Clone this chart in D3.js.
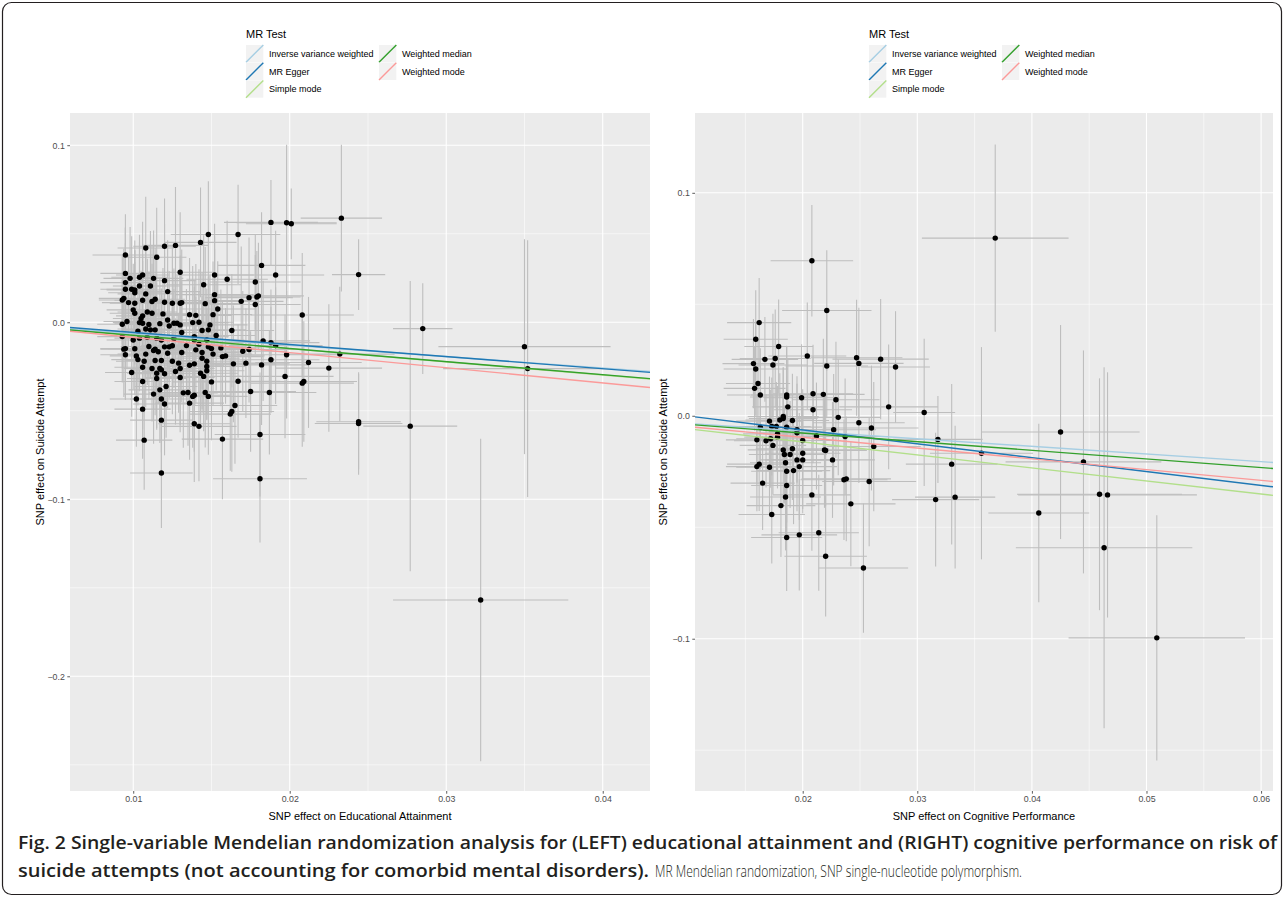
<!DOCTYPE html>
<html lang="en">
<head>
<meta charset="utf-8">
<title>MR scatter plots</title>
<script src="https://cdn.jsdelivr.net/npm/d3@7"></script>
<style>
body { margin: 0; background: #fff; }
.axis text { font-family: "Liberation Sans", Arial, sans-serif; font-size: 8.8px; fill: #4d4d4d; }
.axis line { stroke: #333; stroke-width: 0.8; }
.axis path { display: none; }
.lab { font-family: "Liberation Sans", Arial, sans-serif; fill: #000; }
</style>
</head>
<body>
<script>
// MR methods (legend order) and colours
var methods = ["Inverse variance weighted", "MR Egger", "Simple mode", "Weighted median", "Weighted mode"];
var methodColors = ["#a6cee3", "#1f78b4", "#b2df8a", "#33a02c", "#fb9a99"];

// LEFT: educational attainment -> suicide attempt
var leftSlopes = [-0.647, -0.683, -0.745, -0.741, -0.856];
var leftIntercepts = [0, 0.00107, 0, 0, 0];

var leftBetaX = [0.0233,0.0188,0.0198,0.0201,0.0167,0.0148,0.0143,0.0127,0.0120,0.0108,
0.0095,0.0115,0.0182,0.0130,0.0152,0.0191,0.0244,0.0160,0.0178,0.0095,
0.0098,0.0095,0.0104,0.0106,0.0113,0.0120,0.0145,0.0104,0.0099,0.0101,
0.0095,0.0111,0.0101,0.0122,0.0108,0.0152,0.0180,0.0179,0.0093,0.0094,
0.0097,0.0101,0.0106,0.0114,0.0112,0.0120,0.0125,0.0130,0.0131,0.0146,
0.0152,0.0169,0.0174,0.0178,0.0100,0.0101,0.0105,0.0109,0.0112,0.0106,
0.0119,0.0136,0.0140,0.0151,0.0154,0.0208,0.0093,0.0096,0.0104,0.0106,
0.0110,0.0122,0.0126,0.0128,0.0130,0.0138,0.0142,0.0149,0.0117,0.0114,
0.0111,0.0108,0.0103,0.0123,0.0131,0.0144,0.0148,0.0163,0.0285,0.0093,
0.0100,0.0104,0.0109,0.0115,0.0118,0.0126,0.0139,0.0139,0.0147,0.0153,
0.0183,0.0188,0.0191,0.0094,0.0095,0.0101,0.0110,0.0114,0.0120,0.0123,
0.0125,0.0134,0.0142,0.0148,0.0150,0.0156,0.0095,0.0102,0.0108,0.0113,
0.0116,0.0122,0.0131,0.0140,0.0144,0.0151,0.0157,0.0159,0.0170,0.0174,
0.0198,0.0232,0.0103,0.0107,0.0114,0.0118,0.0125,0.0129,0.0136,0.0139,
0.0144,0.0147,0.0164,0.0172,0.0182,0.0188,0.0212,0.0099,0.0106,0.0112,
0.0117,0.0118,0.0115,0.0120,0.0127,0.0130,0.0143,0.0145,0.0147,0.0147,
0.0225,0.0106,0.0115,0.0130,0.0150,0.0167,0.0197,0.0208,0.0209,0.0113,
0.0117,0.0121,0.0132,0.0135,0.0139,0.0138,0.0146,0.0148,0.0175,0.0187,
0.0102,0.0118,0.0120,0.0136,0.0106,0.0165,0.0163,0.0162,0.0118,0.0139,
0.0142,0.0244,0.0244,0.0277,0.0107,0.0157,0.0181,0.0118,0.0181,0.0350,
0.0352,0.0322];

var leftBetaY = [0.0588,0.0564,0.0562,0.0556,0.0496,0.0496,0.0451,0.0434,0.0429,0.0419,
0.0380,0.0367,0.0321,0.0282,0.0267,0.0267,0.0269,0.0243,0.0227,0.0276,
0.0248,0.0224,0.0254,0.0267,0.0248,0.0235,0.0212,0.0205,0.0186,0.0182,
0.0186,0.0205,0.0167,0.0173,0.0160,0.0156,0.0149,0.0143,0.0126,0.0135,
0.0111,0.0107,0.0124,0.0130,0.0117,0.0113,0.0107,0.0107,0.0111,0.0105,
0.0122,0.0118,0.0139,0.0100,0.0070,0.0051,0.0021,0.0058,0.0051,0.0036,
0.0047,0.0043,0.0039,0.0043,0.0075,0.0041,-0.0011,0.0004,-0.0002,-0.0006,
-0.0013,0.0013,-0.0006,-0.0006,-0.0015,-0.0002,0.0000,-0.0015,-0.0008,-0.0043,
-0.0043,-0.0038,-0.0051,-0.0021,-0.0058,-0.0047,-0.0043,-0.0047,-0.0036,-0.0081,
-0.0100,-0.0090,-0.0085,-0.0090,-0.0100,-0.0092,-0.0081,-0.0100,-0.0100,-0.0075,
-0.0105,-0.0115,-0.0132,-0.0152,-0.0149,-0.0150,-0.0137,-0.0152,-0.0139,-0.0139,
-0.0133,-0.0132,-0.0124,-0.0139,-0.0149,-0.0145,-0.0184,-0.0190,-0.0180,-0.0160,
-0.0167,-0.0175,-0.0171,-0.0156,-0.0171,-0.0180,-0.0194,-0.0190,-0.0164,-0.0154,
-0.0184,-0.0180,-0.0211,-0.0220,-0.0216,-0.0216,-0.0220,-0.0231,-0.0243,-0.0235,
-0.0203,-0.0220,-0.0235,-0.0231,-0.0241,-0.0212,-0.0227,-0.0284,-0.0254,-0.0261,
-0.0261,-0.0269,-0.0288,-0.0291,-0.0278,-0.0261,-0.0288,-0.0306,-0.0250,-0.0274,
-0.0259,-0.0335,-0.0318,-0.0312,-0.0337,-0.0333,-0.0306,-0.0344,-0.0335,-0.0406,
-0.0382,-0.0363,-0.0399,-0.0397,-0.0412,-0.0419,-0.0397,-0.0419,-0.0391,-0.0397,
-0.0434,-0.0434,-0.0462,-0.0457,-0.0491,-0.0470,-0.0504,-0.0519,-0.0553,-0.0573,
-0.0588,-0.0562,-0.0572,-0.0587,-0.0666,-0.0660,-0.0634,-0.0852,-0.0884,-0.0138,
-0.0262,-0.1569];

var leftSeX = [0.0026,0.0030,0.0032,0.0029,0.0027,0.0024,0.0023,0.0021,0.0020,0.0018,
0.0021,0.0019,0.0028,0.0022,0.0025,0.0031,0.0017,0.0026,0.0029,0.0016,
0.0017,0.0016,0.0018,0.0017,0.0019,0.0020,0.0024,0.0017,0.0016,0.0018,
0.0016,0.0019,0.0017,0.0021,0.0018,0.0025,0.0029,0.0028,0.0015,0.0016,
0.0017,0.0016,0.0018,0.0019,0.0020,0.0021,0.0020,0.0022,0.0021,0.0024,
0.0025,0.0027,0.0028,0.0029,0.0017,0.0016,0.0018,0.0019,0.0018,0.0017,
0.0020,0.0022,0.0023,0.0025,0.0024,0.0033,0.0016,0.0015,0.0017,0.0018,
0.0018,0.0020,0.0021,0.0020,0.0022,0.0023,0.0022,0.0024,0.0019,0.0019,
0.0018,0.0018,0.0017,0.0021,0.0022,0.0023,0.0024,0.0027,0.0019,0.0016,
0.0017,0.0016,0.0018,0.0019,0.0020,0.0021,0.0022,0.0023,0.0024,0.0025,
0.0030,0.0031,0.0030,0.0015,0.0016,0.0017,0.0018,0.0019,0.0020,0.0021,
0.0020,0.0022,0.0023,0.0024,0.0025,0.0026,0.0016,0.0017,0.0018,0.0019,
0.0019,0.0020,0.0022,0.0023,0.0024,0.0025,0.0026,0.0025,0.0028,0.0029,
0.0032,0.0035,0.0017,0.0018,0.0019,0.0020,0.0021,0.0021,0.0022,0.0023,
0.0024,0.0024,0.0027,0.0028,0.0030,0.0031,0.0034,0.0017,0.0018,0.0018,
0.0019,0.0020,0.0019,0.0020,0.0021,0.0022,0.0024,0.0024,0.0025,0.0024,
0.0034,0.0018,0.0019,0.0022,0.0025,0.0027,0.0031,0.0033,0.0034,0.0019,
0.0020,0.0020,0.0022,0.0022,0.0023,0.0023,0.0024,0.0025,0.0029,0.0030,
0.0017,0.0020,0.0020,0.0022,0.0018,0.0027,0.0027,0.0026,0.0020,0.0023,
0.0024,0.0027,0.0028,0.0030,0.0018,0.0026,0.0029,0.0020,0.0030,0.0055,
0.0054,0.0056];

var leftSeY = [0.0415,0.024,0.044,0.020,0.028,0.030,0.031,0.033,0.027,0.029,
0.023,0.028,0.030,0.034,0.029,0.025,0.020,0.033,0.027,0.026,
0.029,0.031,0.024,0.030,0.027,0.032,0.028,0.025,0.030,0.028,
0.026,0.031,0.024,0.029,0.027,0.033,0.030,0.026,0.025,0.028,
0.027,0.030,0.026,0.029,0.031,0.028,0.033,0.027,0.030,0.032,
0.029,0.031,0.034,0.028,0.026,0.029,0.027,0.030,0.028,0.031,
0.026,0.032,0.029,0.030,0.027,0.035,0.025,0.027,0.029,0.026,
0.030,0.028,0.031,0.027,0.029,0.032,0.030,0.028,0.026,0.029,
0.027,0.030,0.028,0.031,0.029,0.033,0.030,0.032,0.0256,0.026,
0.028,0.030,0.027,0.031,0.029,0.028,0.032,0.030,0.029,0.031,
0.034,0.030,0.033,0.027,0.029,0.026,0.030,0.028,0.031,0.029,
0.027,0.032,0.030,0.028,0.031,0.033,0.025,0.028,0.030,0.027,
0.029,0.031,0.028,0.030,0.032,0.029,0.031,0.027,0.034,0.030,
0.036,0.038,0.026,0.029,0.031,0.027,0.030,0.028,0.032,0.029,
0.031,0.030,0.033,0.031,0.034,0.030,0.037,0.025,0.028,0.030,
0.027,0.029,0.031,0.028,0.030,0.032,0.029,0.031,0.030,0.028,
0.036,0.027,0.029,0.031,0.033,0.032,0.035,0.036,0.034,0.028,
0.030,0.029,0.031,0.030,0.032,0.029,0.031,0.033,0.034,0.035,
0.027,0.030,0.029,0.032,0.028,0.033,0.034,0.032,0.030,0.033,
0.031,0.027,0.029,0.082,0.028,0.034,0.035,0.031,0.036,0.0607,
0.0725,0.0911];

var leftXDomain = [0.00596, 0.04302];
var leftYDomain = [-0.2648, 0.1182];
var leftXTicks = [0.01, 0.02, 0.03, 0.04];
var leftXMinor = [0.015, 0.025, 0.035];
var leftYTicks = [0.1, 0.0, -0.1, -0.2];
var leftYMinor = [0.05, -0.05, -0.15, -0.25];

// RIGHT: cognitive performance -> suicide attempt
var rightSlopes = [-0.343, -0.622, -0.585, -0.387, -0.483];
var rightIntercepts = [0, 0.00611, 0, 0, 0];

var rightBetaX = [0.0208,0.0221,0.0162,0.0159,0.0179,0.0167,0.0176,0.0157,0.0174,0.0159,
0.0204,0.0221,0.0247,0.0249,0.0268,0.0161,0.0158,0.0163,0.0186,0.0186,
0.0199,0.0209,0.0218,0.0229,0.0187,0.0209,0.0231,0.0275,0.0171,0.0180,
0.0183,0.0183,0.0191,0.0163,0.0173,0.0177,0.0186,0.0195,0.0195,0.0178,
0.0178,0.0172,0.0227,0.0249,0.0260,0.0212,0.0237,0.0200,0.0160,0.0168,
0.0174,0.0183,0.0191,0.0184,0.0189,0.0200,0.0219,0.0220,0.0262,0.0195,
0.0200,0.0226,0.0185,0.0197,0.0160,0.0162,0.0171,0.0186,0.0192,0.0165,
0.0236,0.0238,0.0258,0.0186,0.0208,0.0185,0.0242,0.0181,0.0173,0.0186,
0.0197,0.0214,0.0220,0.0253,0.0281,0.0306,0.0318,0.0330,0.0316,0.0333,
0.0356,0.0368,0.0425,0.0445,0.0406,0.0459,0.0466,0.0463,0.0509];

var rightBetaY = [0.0695,0.0472,0.0418,0.0343,0.0311,0.0253,0.0257,0.0234,0.0228,0.0210,
0.0268,0.0223,0.0260,0.0235,0.0254,0.0145,0.0123,0.0093,0.0093,0.0084,
0.0081,0.0099,0.0096,0.0072,0.0040,0.0027,-0.0007,0.0040,-0.0024,-0.0019,
-0.0003,-0.0012,-0.0021,-0.0051,-0.0048,-0.0048,-0.0051,-0.0063,-0.0076,-0.0081,
-0.0096,-0.0103,-0.0063,-0.0031,-0.0055,-0.0091,-0.0093,-0.0111,-0.0108,-0.0112,
-0.0133,-0.0153,-0.0148,-0.0174,-0.0174,-0.0168,-0.0153,-0.0156,-0.0138,-0.0198,
-0.0198,-0.0198,-0.0211,-0.0228,-0.0228,-0.0217,-0.0231,-0.0249,-0.0246,-0.0302,
-0.0287,-0.0283,-0.0295,-0.0313,-0.0355,-0.0364,-0.0395,-0.0403,-0.0443,-0.0546,
-0.0534,-0.0525,-0.0630,-0.0683,0.0219,0.0015,-0.0106,-0.0217,-0.0376,-0.0365,
-0.0168,0.0797,-0.0073,-0.0207,-0.0436,-0.0352,-0.0355,-0.0592,-0.0996];

var rightSeX = [0.0036,0.0039,0.0028,0.0028,0.0030,0.0029,0.0031,0.0027,0.0030,0.0028,
0.0034,0.0036,0.0040,0.0039,0.0042,0.0028,0.0027,0.0029,0.0031,0.0032,
0.0033,0.0035,0.0036,0.0038,0.0031,0.0034,0.0037,0.0043,0.0029,0.0030,
0.0031,0.0030,0.0032,0.0028,0.0029,0.0030,0.0031,0.0033,0.0032,0.0030,
0.0029,0.0030,0.0037,0.0040,0.0041,0.0035,0.0038,0.0033,0.0027,0.0028,
0.0029,0.0031,0.0032,0.0031,0.0032,0.0033,0.0036,0.0036,0.0041,0.0032,
0.0033,0.0037,0.0031,0.0033,0.0027,0.0028,0.0029,0.0031,0.0032,0.0028,
0.0038,0.0039,0.0041,0.0031,0.0034,0.0031,0.0039,0.0030,0.0029,0.0031,
0.0033,0.0035,0.0036,0.0039,0.0030,0.0027,0.0039,0.0040,0.0038,0.0035,
0.0045,0.0064,0.0069,0.0068,0.0044,0.0072,0.0078,0.0077,0.0077];

var rightSeY = [0.025,0.027,0.020,0.022,0.021,0.019,0.022,0.020,0.023,0.021,
0.024,0.023,0.026,0.025,0.027,0.020,0.019,0.021,0.022,0.023,
0.024,0.022,0.025,0.026,0.021,0.024,0.026,0.028,0.020,0.021,
0.022,0.023,0.021,0.019,0.022,0.020,0.023,0.024,0.022,0.021,
0.023,0.022,0.025,0.027,0.028,0.024,0.026,0.023,0.020,0.021,
0.022,0.024,0.023,0.022,0.024,0.025,0.026,0.025,0.029,0.023,
0.024,0.026,0.022,0.024,0.020,0.021,0.022,0.023,0.024,0.021,
0.027,0.028,0.029,0.023,0.025,0.024,0.028,0.023,0.022,0.024,
0.025,0.026,0.027,0.029,0.025,0.033,0.0195,0.036,0.030,0.032,
0.0476,0.042,0.048,0.050,0.040,0.052,0.055,0.081,0.055];

var rightXDomain = [0.0106, 0.06104];
var rightYDomain = [-0.1683, 0.1358];
var rightXTicks = [0.02, 0.03, 0.04, 0.05, 0.06];
var rightXMinor = [0.015, 0.025, 0.035, 0.045, 0.055];
var rightYTicks = [0.1, 0.0, -0.1];
var rightYMinor = [0.05, -0.05, -0.15];

var svg = d3.select("body").append("svg")
    .attr("width", 1284)
    .attr("height", 898);

// figure frame
svg.append("rect")
    .attr("x", 2.5).attr("y", 2.5)
    .attr("width", 1279).attr("height", 892)
    .attr("rx", 9)
    .attr("fill", "none")
    .attr("stroke", "#231f20")
    .attr("stroke-width", 1.2);

function drawPanel(p) {
    var x = d3.scaleLinear().domain(p.xDomain).range([p.left, p.right]);
    var y = d3.scaleLinear().domain(p.yDomain).range([p.bottom, p.top]);
    var g = svg.append("g");

    g.append("clipPath").attr("id", p.id + "-clip")
        .append("rect")
        .attr("x", p.left).attr("y", p.top)
        .attr("width", p.right - p.left).attr("height", p.bottom - p.top);

    g.append("rect")
        .attr("x", p.left).attr("y", p.top)
        .attr("width", p.right - p.left).attr("height", p.bottom - p.top)
        .attr("fill", "#ebebeb");

    // grid lines
    g.selectAll(".ymin").data(p.yMinor).enter().append("line")
        .attr("x1", p.left).attr("x2", p.right)
        .attr("y1", function(d) { return y(d); }).attr("y2", function(d) { return y(d); })
        .attr("stroke", "#fff").attr("stroke-width", 0.55)
        .attr("clip-path", "url(#" + p.id + "-clip)");
    g.selectAll(".xmin").data(p.xMinor).enter().append("line")
        .attr("y1", p.top).attr("y2", p.bottom)
        .attr("x1", function(d) { return x(d); }).attr("x2", function(d) { return x(d); })
        .attr("stroke", "#fff").attr("stroke-width", 0.55);
    g.selectAll(".ymaj").data(p.yTicks).enter().append("line")
        .attr("x1", p.left).attr("x2", p.right)
        .attr("y1", function(d) { return y(d); }).attr("y2", function(d) { return y(d); })
        .attr("stroke", "#fff").attr("stroke-width", 1.1);
    g.selectAll(".xmaj").data(p.xTicks).enter().append("line")
        .attr("y1", p.top).attr("y2", p.bottom)
        .attr("x1", function(d) { return x(d); }).attr("x2", function(d) { return x(d); })
        .attr("stroke", "#fff").attr("stroke-width", 1.1);

    var pts = d3.range(p.bx.length).map(function(i) {
        return { bx: p.bx[i], by: p.by[i], sx: p.sx[i], sy: p.sy[i] };
    });

    var marks = g.append("g").attr("clip-path", "url(#" + p.id + "-clip)");

    // error bars
    marks.selectAll(".ev").data(pts).enter().append("line")
        .attr("x1", function(d) { return x(d.bx); })
        .attr("x2", function(d) { return x(d.bx); })
        .attr("y1", function(d) { return y(d.by - d.sy); })
        .attr("y2", function(d) { return y(d.by + d.sy); })
        .attr("stroke", "#bebebe").attr("stroke-width", 1.1);
    marks.selectAll(".eh").data(pts).enter().append("line")
        .attr("y1", function(d) { return y(d.by); })
        .attr("y2", function(d) { return y(d.by); })
        .attr("x1", function(d) { return x(d.bx - d.sx); })
        .attr("x2", function(d) { return x(d.bx + d.sx); })
        .attr("stroke", "#bebebe").attr("stroke-width", 1.1);

    // points
    marks.selectAll("circle").data(pts).enter().append("circle")
        .attr("cx", function(d) { return x(d.bx); })
        .attr("cy", function(d) { return y(d.by); })
        .attr("r", 2.7)
        .attr("fill", "#000");

    // method lines (abline)
    marks.selectAll(".mr").data(methods).enter().append("line")
        .attr("x1", x(p.xDomain[0]))
        .attr("x2", x(p.xDomain[1]))
        .attr("y1", function(d, i) { return y(p.intercepts[i] + p.slopes[i] * p.xDomain[0]); })
        .attr("y2", function(d, i) { return y(p.intercepts[i] + p.slopes[i] * p.xDomain[1]); })
        .attr("stroke", function(d, i) { return methodColors[i]; })
        .attr("stroke-width", 1.4);

    // axes
    var xAxis = d3.axisBottom(x).tickValues(p.xTicks).tickFormat(d3.format(".2f"))
        .tickSize(2.7).tickPadding(2.5);
    var yAxis = d3.axisLeft(y).tickValues(p.yTicks).tickFormat(d3.format(".1f"))
        .tickSize(2.7).tickPadding(2.5);
    g.append("g").attr("class", "axis")
        .attr("transform", "translate(0," + p.bottom + ")")
        .call(xAxis);
    g.append("g").attr("class", "axis")
        .attr("transform", "translate(" + p.left + ",0)")
        .call(yAxis);

    g.append("text").attr("class", "lab")
        .attr("x", (p.left + p.right) / 2).attr("y", p.bottom + 29)
        .attr("text-anchor", "middle")
        .attr("font-size", "11px")
        .text(p.xTitle);
    g.append("text").attr("class", "lab")
        .attr("transform", "translate(" + p.yTitleX + "," + (p.top + p.bottom) / 2 + ") rotate(-90)")
        .attr("text-anchor", "middle")
        .attr("font-size", "11px")
        .text("SNP effect on Suicide Attempt");
}

function drawLegend(x0) {
    var g = svg.append("g").attr("transform", "translate(" + x0 + ",0)");
    g.append("text").attr("class", "lab")
        .attr("x", 0).attr("y", 38)
        .attr("font-size", "11px")
        .text("MR Test");
    var key = 17.3;
    var items = g.selectAll(".item").data(methods).enter().append("g")
        .attr("transform", function(d, i) {
            var col = i < 3 ? 0 : 1;
            var row = i < 3 ? i : i - 3;
            return "translate(" + (col * 133) + "," + (45 + row * 17.7) + ")";
        });
    items.append("rect")
        .attr("width", key).attr("height", key)
        .attr("fill", "#f2f2f2");
    items.append("line")
        .attr("x1", 0).attr("y1", key)
        .attr("x2", key).attr("y2", 0)
        .attr("stroke", function(d, i) { return methodColors[i]; })
        .attr("stroke-width", 1.4);
    items.append("text").attr("class", "lab")
        .attr("x", 23).attr("y", key / 2 + 3.3)
        .attr("font-size", "9px")
        .text(function(d) { return d; });
}

drawPanel({
    id: "left", left: 70, right: 650, top: 113, bottom: 791,
    xDomain: leftXDomain, yDomain: leftYDomain,
    xTicks: leftXTicks, xMinor: leftXMinor, yTicks: leftYTicks, yMinor: leftYMinor,
    bx: leftBetaX, by: leftBetaY, sx: leftSeX, sy: leftSeY,
    slopes: leftSlopes, intercepts: leftIntercepts,
    xTitle: "SNP effect on Educational Attainment", yTitleX: 44
});
drawPanel({
    id: "right", left: 695, right: 1273, top: 113, bottom: 791,
    xDomain: rightXDomain, yDomain: rightYDomain,
    xTicks: rightXTicks, xMinor: rightXMinor, yTicks: rightYTicks, yMinor: rightYMinor,
    bx: rightBetaX, by: rightBetaY, sx: rightSeX, sy: rightSeY,
    slopes: rightSlopes, intercepts: rightIntercepts,
    xTitle: "SNP effect on Cognitive Performance", yTitleX: 667
});
drawLegend(246);
drawLegend(869);

// caption
var capFont = '"Open Sans", "Noto Sans", "Liberation Sans", Arial, sans-serif';
svg.append("text")
    .attr("x", 18).attr("y", 849)
    .attr("font-family", capFont).attr("font-weight", 600).attr("font-size", "18px")
    .attr("fill", "#231f20")
    .attr("textLength", 1259).attr("lengthAdjust", "spacingAndGlyphs")
    .text("Fig. 2 Single-variable Mendelian randomization analysis for (LEFT) educational attainment and (RIGHT) cognitive performance on risk of");
svg.append("text")
    .attr("x", 18).attr("y", 877)
    .attr("font-family", capFont).attr("font-weight", 600).attr("font-size", "18px")
    .attr("fill", "#231f20")
    .attr("textLength", 631).attr("lengthAdjust", "spacingAndGlyphs")
    .text("suicide attempts (not accounting for comorbid mental disorders).");
svg.append("text")
    .attr("x", 655).attr("y", 877)
    .attr("font-family", capFont).attr("font-weight", 300).attr("font-size", "17px")
    .attr("fill", "#231f20")
    .attr("textLength", 367).attr("lengthAdjust", "spacingAndGlyphs")
    .text("MR Mendelian randomization, SNP single-nucleotide polymorphism.");
</script>
</body>
</html>
